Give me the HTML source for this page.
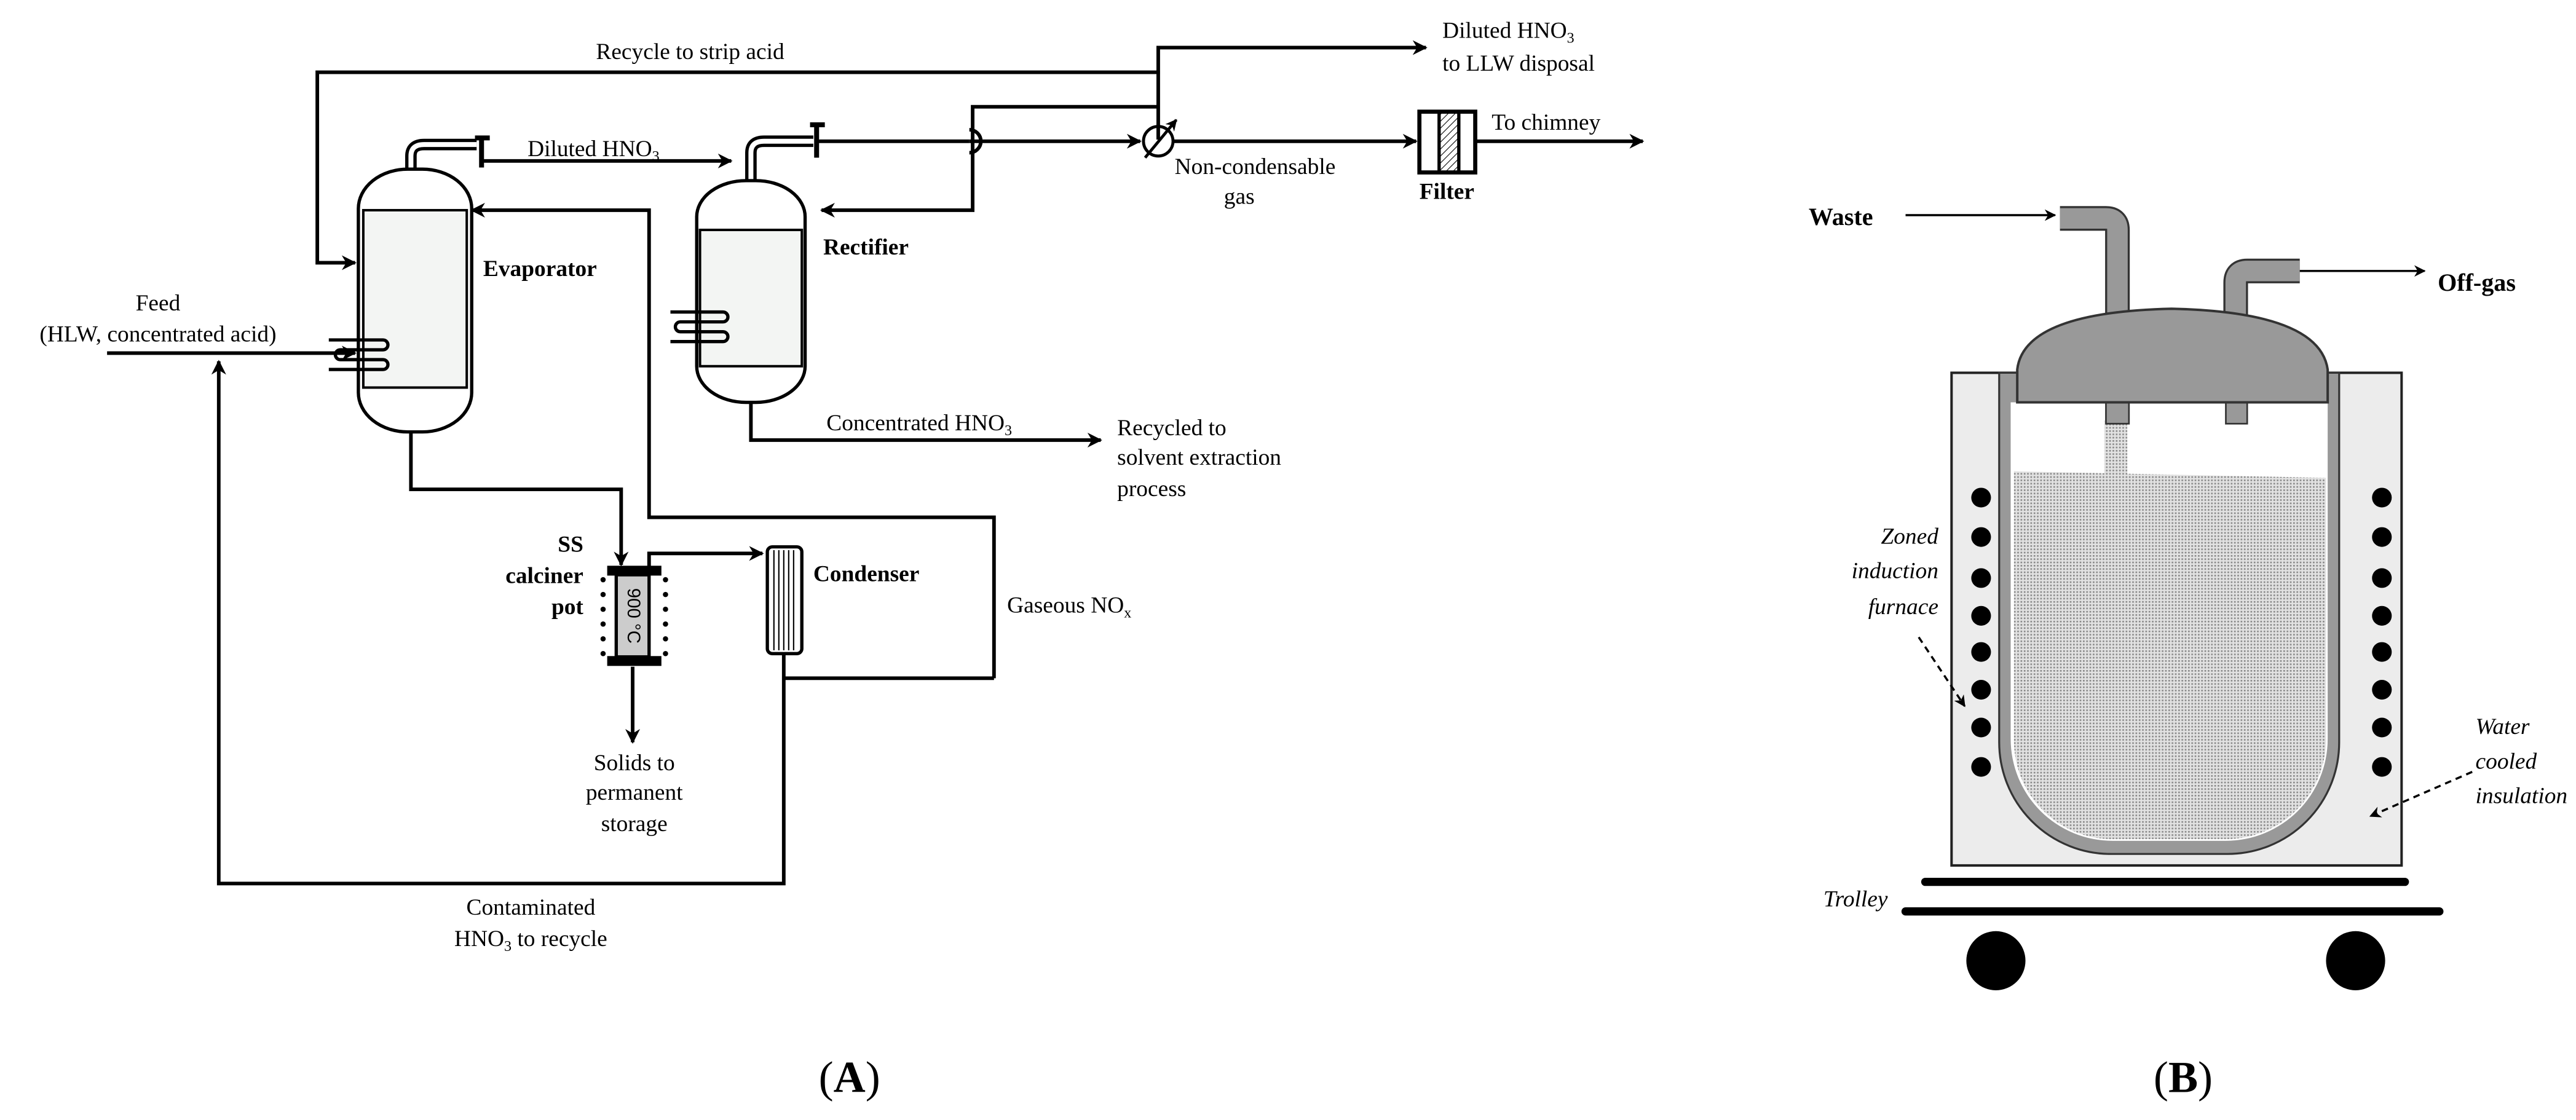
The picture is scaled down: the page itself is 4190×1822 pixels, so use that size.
<!DOCTYPE html>
<html><head><meta charset="utf-8"><style>
html,body{margin:0;padding:0;background:#fff;}
svg{display:block;}
text{font-family:"Liberation Serif",serif;fill:#000;}
</style></head><body>
<svg width="4190" height="1822" viewBox="0 0 1568 682" xmlns="http://www.w3.org/2000/svg">
<defs>
<marker id="ar" viewBox="0 0 10 10" refX="9" refY="5" markerWidth="9" markerHeight="9" markerUnits="userSpaceOnUse" orient="auto"><path d="M0,0 L10,5 L0,10 L3,5 z" fill="#000"/></marker>
<marker id="as" viewBox="0 0 10 10" refX="9" refY="5" markerWidth="7" markerHeight="7" markerUnits="userSpaceOnUse" orient="auto"><path d="M0,0 L10,5 L0,10 L3,5 z" fill="#000"/></marker>
<pattern id="hatch" width="3" height="3" patternUnits="userSpaceOnUse" patternTransform="rotate(45)"><line x1="0" y1="0" x2="0" y2="3" stroke="#000" stroke-width="0.8"/></pattern>
<pattern id="liq" width="2" height="2" patternUnits="userSpaceOnUse"><rect width="2" height="2" fill="#e2e2e2"/><rect width="1" height="1" fill="#8a8a8a"/></pattern>
</defs>
<rect width="1568" height="682" fill="#fff"/>
<g fill="none" stroke="#000" stroke-width="2.2">
<polyline points="706,44 193,44 193,160 216,160" marker-end="url(#ar)"/>
<polyline points="705,85 705,29 868,29" marker-end="url(#ar)"/>
<polyline points="705,65 592,65 592,128 500,128" marker-end="url(#ar)"/>
<path d="M497,86 L590,86 M590,79 A7,7 0 0 1 590,93" />
<polyline points="590,86 694,86" marker-end="url(#ar)"/>
<circle cx="705" cy="86" r="9" stroke-width="1.8"/>
<line x1="697" y1="96" x2="716" y2="73" stroke-width="1.8" marker-end="url(#as)"/>
<polyline points="714,86 862,86" marker-end="url(#ar)"/>
<polyline points="898,86 1000,86" marker-end="url(#ar)"/>
<polyline points="293,98 445,98" marker-end="url(#ar)"/>
<polyline points="65,215 216,215" marker-end="url(#ar)"/>
<polyline points="605,413 605,315 395,315 395,128 287,128" marker-end="url(#ar)"/>
<polyline points="477,413 605,413"/>
<polyline points="477,398 477,538 133,538 133,220" marker-end="url(#ar)"/>
<polyline points="250,263 250,298 378,298 378,344" marker-end="url(#ar)"/>
<polyline points="395,347 395,337 464,337" marker-end="url(#ar)"/>
<polyline points="385,406 385,452" marker-end="url(#ar)"/>
<polyline points="457,245 457,268 670,268" marker-end="url(#ar)"/>
</g>
<g stroke="#000" stroke-width="2" fill="#fff">
<path d="M250,103 L250,95 Q250,88 258,88 L290,88" fill="none" stroke-width="7"/>
<path d="M250,103 L250,95 Q250,88 258,88 L290,88" fill="none" stroke="#fff" stroke-width="3"/>
<line x1="293" y1="84" x2="293" y2="102" stroke-width="3"/><line x1="289" y1="84" x2="298" y2="84" stroke-width="3"/>
<rect x="218" y="103" width="69" height="160" rx="30" ry="24"/>
<rect x="221" y="128" width="63" height="108" fill="#f3f5f3" stroke-width="1.5"/>
<path d="M200,207 H233 a3,3 0 0 1 0,6 H207 a3,3 0 0 0 0,6 H233 a3,3 0 0 1 0,6 H200" fill="none" stroke-width="2"/>
</g>
<g stroke="#000" stroke-width="2" fill="#fff">
<path d="M457,110 L457,93 Q457,86 465,86 L495,86" fill="none" stroke-width="7"/>
<path d="M457,110 L457,93 Q457,86 465,86 L495,86" fill="none" stroke="#fff" stroke-width="3"/>
<line x1="497" y1="76" x2="497" y2="96" stroke-width="3"/><line x1="493" y1="76" x2="502" y2="76" stroke-width="3"/>
<rect x="424" y="110" width="66" height="135" rx="30" ry="22"/>
<rect x="426" y="140" width="62" height="83" fill="#f3f5f3" stroke-width="1.5"/>
<path d="M408,190 H440 a3,3 0 0 1 0,6 H414 a3,3 0 0 0 0,6 H440 a3,3 0 0 1 0,6 H408" fill="none" stroke-width="2"/>
</g>
<rect x="864" y="68" width="34" height="37" fill="#fff" stroke="#000" stroke-width="2.5"/>
<rect x="876" y="68" width="12" height="37" fill="url(#hatch)" stroke="#000" stroke-width="2"/>
<g stroke="#000">
<rect x="375" y="350" width="20" height="50" fill="#ccc" stroke-width="2"/>
<rect x="370" y="345" width="32" height="5" fill="#000"/>
<rect x="370" y="400" width="32" height="5" fill="#000"/>
<g fill="#000" stroke="none">
<circle cx="367" cy="353" r="1.6"/><circle cx="367" cy="362" r="1.6"/><circle cx="367" cy="371" r="1.6"/><circle cx="367" cy="380" r="1.6"/><circle cx="367" cy="389" r="1.6"/><circle cx="367" cy="398" r="1.6"/>
<circle cx="405" cy="353" r="1.6"/><circle cx="405" cy="362" r="1.6"/><circle cx="405" cy="371" r="1.6"/><circle cx="405" cy="380" r="1.6"/><circle cx="405" cy="389" r="1.6"/><circle cx="405" cy="398" r="1.6"/>
</g>
</g>
<text x="0" y="0" font-size="11" transform="translate(381,375) rotate(90)" text-anchor="middle" dy="-1" style="font-family:'Liberation Sans',sans-serif">900 °C</text>
<rect x="467" y="333" width="21" height="65" rx="3" fill="#fff" stroke="#000" stroke-width="2"/>
<g stroke="#000" stroke-width="0.8"><line x1="471" y1="335" x2="471" y2="396"/><line x1="474" y1="335" x2="474" y2="396"/><line x1="477" y1="335" x2="477" y2="396"/><line x1="480" y1="335" x2="480" y2="396"/><line x1="483" y1="335" x2="483" y2="396"/></g>
<g font-size="14">
<text x="420" y="36" text-anchor="middle">Recycle to strip acid</text>
<text x="878" y="23">Diluted HNO<tspan font-size="9" dy="3">3</tspan></text>
<text x="878" y="43">to LLW disposal</text>
<text x="321" y="95">Diluted HNO<tspan font-size="9" dy="3">3</tspan></text>
<text x="908" y="79">To chimney</text>
<text x="715" y="106">Non-condensable</text>
<text x="745" y="124">gas</text>
<text x="864" y="121" font-weight="bold">Filter</text>
<text x="294" y="168" font-weight="bold">Evaporator</text>
<text x="501" y="155" font-weight="bold">Rectifier</text>
<text x="96" y="189" text-anchor="middle">Feed</text>
<text x="96" y="208" text-anchor="middle">(HLW, concentrated acid)</text>
<text x="503" y="262">Concentrated HNO<tspan font-size="9" dy="3">3</tspan></text>
<text x="680" y="265">Recycled to</text>
<text x="680" y="283">solvent extraction</text>
<text x="680" y="302">process</text>
<text x="355" y="336" text-anchor="end" font-weight="bold">SS</text>
<text x="355" y="355" text-anchor="end" font-weight="bold">calciner</text>
<text x="355" y="374" text-anchor="end" font-weight="bold">pot</text>
<text x="495" y="354" font-weight="bold">Condenser</text>
<text x="613" y="373">Gaseous NO<tspan font-size="9" dy="3">x</tspan></text>
<text x="386" y="469" text-anchor="middle">Solids to</text>
<text x="386" y="487" text-anchor="middle">permanent</text>
<text x="386" y="506" text-anchor="middle">storage</text>
<text x="323" y="557" text-anchor="middle">Contaminated</text>
<text x="323" y="576" text-anchor="middle">HNO<tspan font-size="9" dy="3">3</tspan><tspan dy="-3"> to recycle</tspan></text>
</g>
<text x="517" y="665" font-size="27" text-anchor="middle">(<tspan font-weight="bold">A</tspan>)</text>
<text x="1329" y="665" font-size="27" text-anchor="middle">(<tspan font-weight="bold">B</tspan>)</text>
<rect x="1188" y="227" width="274" height="300" fill="#ececec" stroke="#222" stroke-width="1.5"/>
<path d="M1217,227 V452 A68,68 0 0 0 1285,520 H1356 A68,68 0 0 0 1424,452 V227 Z" fill="#999" stroke="#333" stroke-width="1.2"/>
<path d="M1224,245 V450 A62,62 0 0 0 1286,512 H1355 A62,62 0 0 0 1417,450 V245 Z" fill="#fff"/>
<path d="M1226,287 L1416,291 V450 A61,61 0 0 1 1355,511 H1286 A60,60 0 0 1 1226,450 Z" fill="url(#liq)"/>
<rect x="1281" y="256" width="14" height="34" fill="url(#liq)"/>
<path d="M1254,133 H1282 Q1289,133 1289,140 V200" fill="none" stroke="#333" stroke-width="15"/>
<path d="M1254,133 H1282 Q1289,133 1289,140 V200" fill="none" stroke="#999" stroke-width="12.5"/>
<path d="M1361,200 V172 Q1361,165 1368,165 H1400" fill="none" stroke="#333" stroke-width="15"/>
<path d="M1361,200 V172 Q1361,165 1368,165 H1400" fill="none" stroke="#999" stroke-width="12.5"/>
<rect x="1282" y="240" width="14" height="18" fill="#999" stroke="#333" stroke-width="1"/>
<rect x="1355" y="240" width="13" height="18" fill="#999" stroke="#333" stroke-width="1"/>
<path d="M1228,245 V225 Q1232,190 1322,188 Q1412,190 1417,225 V245 Z" fill="#999" stroke="#333" stroke-width="1.5"/>
<g fill="#000">
<circle cx="1206" cy="303" r="6"/><circle cx="1206" cy="327" r="6"/><circle cx="1206" cy="352" r="6"/><circle cx="1206" cy="375" r="6"/><circle cx="1206" cy="397" r="6"/><circle cx="1206" cy="420" r="6"/><circle cx="1206" cy="443" r="6"/><circle cx="1206" cy="467" r="6"/>
<circle cx="1450" cy="303" r="6"/><circle cx="1450" cy="327" r="6"/><circle cx="1450" cy="352" r="6"/><circle cx="1450" cy="375" r="6"/><circle cx="1450" cy="397" r="6"/><circle cx="1450" cy="420" r="6"/><circle cx="1450" cy="443" r="6"/><circle cx="1450" cy="467" r="6"/>
<circle cx="1215" cy="585" r="18"/><circle cx="1434" cy="585" r="18"/>
</g>
<line x1="1172" y1="537" x2="1464" y2="537" stroke="#000" stroke-width="5" stroke-linecap="round"/>
<line x1="1160" y1="555" x2="1485" y2="555" stroke="#000" stroke-width="5" stroke-linecap="round"/>
<g stroke="#000" stroke-width="1.3" fill="none">
<polyline points="1160,131 1251,131" marker-end="url(#as)"/>
<polyline points="1400,165 1476,165" marker-end="url(#as)"/>
<polyline points="1168,388 1196,430" stroke-dasharray="4,3" marker-end="url(#as)"/>
<polyline points="1505,470 1443,497" stroke-dasharray="4,3" marker-end="url(#as)"/>
</g>
<g font-size="14" font-style="italic">
<text x="1180" y="331" text-anchor="end">Zoned</text>
<text x="1180" y="352" text-anchor="end">induction</text>
<text x="1180" y="374" text-anchor="end">furnace</text>
<text x="1507" y="447">Water</text>
<text x="1507" y="468">cooled</text>
<text x="1507" y="489">insulation</text>
<text x="1110" y="552">Trolley</text>
</g>
<text x="1101" y="137" font-size="15" font-weight="bold">Waste</text>
<text x="1484" y="177" font-size="15" font-weight="bold">Off-gas</text>
</svg>
</body></html>
